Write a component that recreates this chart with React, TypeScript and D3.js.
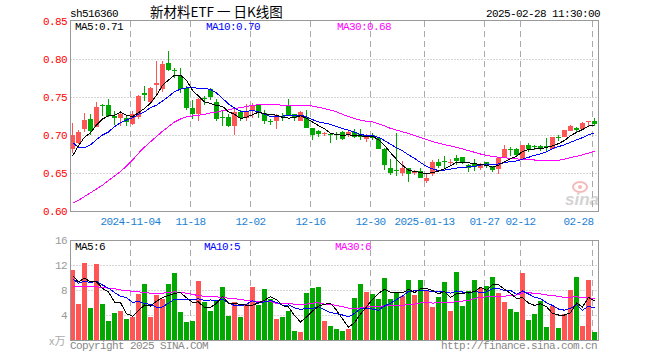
import React from 'react';
import * as d3 from 'd3';

const dates = [
  '2024-10-21','2024-10-22','2024-10-23','2024-10-24','2024-10-25','2024-10-28','2024-10-29','2024-10-30','2024-10-31',
  '2024-11-01','2024-11-04','2024-11-05','2024-11-06','2024-11-07','2024-11-08','2024-11-11','2024-11-12','2024-11-13','2024-11-14','2024-11-15',
  '2024-11-18','2024-11-19','2024-11-20','2024-11-21','2024-11-22','2024-11-25','2024-11-26','2024-11-27','2024-11-28','2024-11-29',
  '2024-12-02','2024-12-03','2024-12-04','2024-12-05','2024-12-06','2024-12-09','2024-12-10','2024-12-11','2024-12-12','2024-12-13',
  '2024-12-16','2024-12-17','2024-12-18','2024-12-19','2024-12-20','2024-12-23','2024-12-24','2024-12-25','2024-12-26','2024-12-27',
  '2024-12-30','2024-12-31','2025-01-02','2025-01-03','2025-01-06','2025-01-07','2025-01-08','2025-01-09','2025-01-10',
  '2025-01-13','2025-01-14','2025-01-15','2025-01-16','2025-01-17','2025-01-20','2025-01-21','2025-01-22','2025-01-23','2025-01-24',
  '2025-01-27','2025-02-05','2025-02-06','2025-02-07','2025-02-10','2025-02-11',
  '2025-02-12','2025-02-13','2025-02-14','2025-02-17','2025-02-18','2025-02-19','2025-02-20','2025-02-21','2025-02-24','2025-02-25',
  '2025-02-26','2025-02-27','2025-02-28'
];

const open = [
  0.682,0.690,0.708,0.721,0.711,0.740,0.739,0.725,0.723,0.722,
  0.714,0.724,0.755,0.744,0.766,0.760,0.795,0.786,0.778,0.762,
  0.735,0.727,0.749,0.760,0.743,0.724,0.724,0.712,0.730,0.722,
  0.732,0.739,0.729,0.719,0.719,0.725,0.738,0.727,0.719,0.722,
  0.709,0.705,0.701,0.701,0.701,0.704,0.6995,0.704,0.701,0.695,
  0.700,0.696,0.682,0.657,0.654,0.650,0.657,0.650,0.653,0.640,
  0.649,0.665,0.666,0.664,0.670,0.671,0.661,0.662,0.6565,0.664,
  0.659,0.655,0.670,0.681,0.682,0.669,0.687,0.686,0.686,0.685,
  0.681,0.697,0.697,0.705,0.709,0.708,0.717,0.718
];
const high = [
  0.716,0.707,0.729,0.727,0.744,0.741,0.748,0.731,0.731,0.726,
  0.731,0.753,0.764,0.763,0.797,0.797,0.811,0.788,0.788,0.764,
  0.746,0.749,0.751,0.762,0.747,0.731,0.727,0.736,0.733,0.741,
  0.742,0.741,0.733,0.721,0.727,0.729,0.747,0.728,0.731,0.733,
  0.709,0.707,0.704,0.701,0.704,0.705,0.706,0.708,0.708,0.701,
  0.703,0.698,0.683,0.669,0.703,0.666,0.657,0.654,0.656,0.650,
  0.667,0.668,0.673,0.669,0.674,0.671,0.662,0.668,0.663,0.665,
  0.659,0.670,0.687,0.684,0.683,0.687,0.690,0.687,0.687,0.696,
  0.698,0.700,0.707,0.713,0.710,0.717,0.719,0.722
];
const low = [
  0.676,0.688,0.704,0.700,0.710,0.725,0.724,0.713,0.712,0.712,
  0.713,0.721,0.745,0.741,0.751,0.757,0.784,0.775,0.755,0.733,
  0.721,0.719,0.740,0.746,0.719,0.712,0.710,0.700,0.719,0.719,
  0.723,0.722,0.714,0.713,0.708,0.719,0.725,0.718,0.718,0.709,
  0.694,0.698,0.699,0.689,0.694,0.693,0.697,0.696,0.694,0.691,
  0.694,0.681,0.654,0.648,0.646,0.646,0.638,0.648,0.644,0.637,
  0.646,0.657,0.657,0.659,0.661,0.662,0.651,0.653,0.654,0.657,
  0.651,0.649,0.670,0.673,0.672,0.669,0.678,0.680,0.679,0.677,
  0.681,0.692,0.697,0.705,0.702,0.707,0.710,0.712
];
const close = [
  0.700,0.704,0.720,0.705,0.737,0.739,0.725,0.723,0.727,0.717,
  0.728,0.751,0.752,0.762,0.768,0.794,0.785,0.785,0.761,0.735,
  0.727,0.748,0.747,0.750,0.721,0.723,0.712,0.730,0.722,0.731,
  0.738,0.730,0.718,0.718,0.726,0.724,0.725,0.722,0.730,0.709,
  0.700,0.701,0.702,0.700,0.700,0.695,0.704,0.697,0.698,0.697,
  0.696,0.681,0.660,0.650,0.653,0.657,0.649,0.651,0.644,0.644,
  0.665,0.659,0.665,0.665,0.666,0.665,0.657,0.658,0.661,0.659,
  0.654,0.670,0.681,0.680,0.674,0.687,0.682,0.685,0.681,0.684,
  0.697,0.696,0.706,0.712,0.706,0.716,0.718,0.714
];
const volume = [
  11.2,5.8,12.3,5.1,12.2,5.8,3.0,4.3,4.6,3.4,
  3.7,7.4,9.0,3.7,7.2,6.6,9.0,10.7,4.5,2.9,
  3.0,9.4,6.1,4.6,6.3,8.5,3.8,6.1,3.7,5.8,
  8.5,5.6,8.2,6.5,3.4,3.7,4.6,1.4,1.3,7.5,
  8.3,8.5,3.0,2.2,1.8,1.4,1.8,6.7,9.0,7.7,
  7.4,6.6,9.9,6.6,7.5,7.0,9.6,7.2,9.6,7.9,
  5.3,6.9,9.3,4.7,10.9,5.4,7.9,9.6,8.3,8.6,
  10.1,7.5,6.1,5.0,4.5,10.8,3.2,4.2,6.3,2.1,
  5.5,1.9,4.2,8.0,10.1,2.2,9.6,1.3
];

// moving-average values before enough history exists in the window
const ma5Head = [0.672, 0.686, 0.697, 0.703];
const ma10Head = [0.690, 0.684, 0.683, 0.687, 0.694, 0.700, 0.704, 0.711, 0.716];
const ma30Head = [
  0.610,0.614,0.619,0.624,0.629,0.634,0.640,0.646,0.652,0.659,
  0.667,0.676,0.684,0.691,0.698,0.705,0.711,0.717,0.721,0.724,
  0.725,0.726,0.727,0.729,0.730,0.732,0.733,0.735,0.736
];
const volMa5Head = [10.3, 9.3, 9.9, 9.3];
const volMa10Head = [9.8, 9.1, 9.4, 9.2, 9.4, 8.8, 8.3, 7.6, 7.0];
const volMa30Head = [
  8.5,8.5,8.6,8.5,8.5,8.4,8.3,8.2,8.0,7.9,
  7.8,7.7,7.6,7.5,7.5,7.5,7.6,7.7,7.6,7.5,
  7.3,7.1,7.0,6.9,6.9,6.8,6.7,6.6,6.5
];

const tickDates = ['2024-11-04','2024-11-18','2024-12-02','2024-12-16','2024-12-30','2025-01-13','2025-01-27','2025-02-12','2025-02-28'];
const tickLabels = ['2024-11-04','11-18','12-02','12-16','12-30','2025-01-13','01-27','02-12','02-28'];
const priceTicks = [0.60, 0.65, 0.70, 0.75, 0.80, 0.85];
const volTicks = [4, 8, 12, 16];

const RED = '#ff5555';
const GREEN = '#00a800';
const GRID = '#aaaaaa';
const BORDER = '#999999';
const MONO = '"Liberation Mono", "DejaVu Sans Mono", monospace';

function movingAvg(vals: number[], n: number, head: number[]): number[] {
  return vals.map((_, i) => (i < n - 1 ? head[i] : (d3.mean(vals.slice(i - n + 1, i + 1)) as number)));
}

export default function App() {
  const left = 70.5, right = 598.5;
  const pTop = 21, pBot = 211;
  const vTop = 240, vBot = 340;

  const xb = d3.scaleBand<string>().domain(dates).range([69.5, 597.5]);
  const cx = (d: string) => (xb(d) as number) + 3;
  const yP = d3.scaleLinear().domain([0.6, 0.85]).range([pBot, pTop]);
  const yV = d3.scaleLinear().domain([0, 16]).range([vBot, vTop]);

  const ma5 = movingAvg(close, 5, ma5Head);
  const ma10 = movingAvg(close, 10, ma10Head);
  const ma30 = movingAvg(close, 30, ma30Head);
  const vma5 = movingAvg(volume, 5, volMa5Head);
  const vma10 = movingAvg(volume, 10, volMa10Head);
  const vma30 = movingAvg(volume, 30, volMa30Head);

  const lineP = d3.line<number>().x((_, i) => cx(dates[i])).y((v) => yP(v));
  const lineV = d3.line<number>().x((_, i) => cx(dates[i])).y((v) => yV(v));

  const last = dates.length - 1;
  const txt = { fontFamily: MONO, fontSize: 11, letterSpacing: -0.6 } as React.CSSProperties;

  return (
    <svg width={660} height={360} style={{ position: 'absolute', left: 0, top: 0, background: '#fff' }}>
      <rect x={0} y={0} width={660} height={360} fill="#fff" />
      {/* header */}
      <text x={70} y={16.5} style={txt} fill="#000">sh516360</text>
      <text x={150} y={17} fontFamily='"Noto Sans CJK SC", sans-serif' fontSize={13.5} fill="#000">新材料ETF 一 日K线图</text>
      <text x={600} y={16.5} style={txt} fill="#000" textAnchor="end">2025-02-28 11:30:00</text>

      {/* price grid */}
      {priceTicks.slice(1, -1).map((t) => (
        <line key={'pg' + t} x1={left} x2={right} y1={Math.round(yP(t)) + 0.5} y2={Math.round(yP(t)) + 0.5}
          stroke={GRID} strokeDasharray="1,2" />
      ))}
      {priceTicks.map((t) => (
        <text key={'pl' + t} x={67} y={yP(t) + 4} style={txt} fill="#ff0000" textAnchor="end">{t.toFixed(2)}</text>
      ))}
      {tickDates.map((d) => (
        <g key={'vd' + d}>
          <line x1={cx(d) - 2} x2={cx(d) - 2} y1={pTop} y2={pBot} stroke={GRID} strokeDasharray="6,4" shapeRendering="crispEdges" />
          <line x1={cx(d) - 2} x2={cx(d) - 2} y1={vTop} y2={vBot} stroke={GRID} strokeDasharray="6,4" shapeRendering="crispEdges" />
        </g>
      ))}
      {tickDates.map((d, i) => {
        const isLast = i === tickDates.length - 1;
        return (
          <text key={'tl' + d} x={isLast ? cx(d) - 1 : cx(d) - 2} y={225} style={txt} fill="#1a7fd4"
            textAnchor={isLast ? 'end' : 'middle'}>{tickLabels[i]}</text>
        );
      })}

      {/* sina watermark */}
      <g opacity={0.55}>
        <ellipse cx={580} cy={187} rx={7} ry={5} fill="none" stroke="#f08080" strokeWidth={2} />
        <circle cx={580} cy={187} r={2} fill="#f08080" />
        <text x={565} y={205} fontFamily="Liberation Sans, sans-serif" fontStyle="italic" fontWeight="bold" fontSize={17} fill="#b0b0b0">sina</text>
      </g>

      {/* candles */}
      <g shapeRendering="crispEdges">
        {dates.map((d, i) => {
          const up = close[i] >= open[i];
          const col = up ? RED : GREEN;
          const x = cx(d);
          const top = yP(Math.max(open[i], close[i]));
          const bot = yP(Math.min(open[i], close[i]));
          return (
            <g key={'c' + d}>
              <line x1={x} x2={x} y1={yP(high[i])} y2={yP(low[i])} stroke={col} strokeWidth={1} />
              <rect x={x - 2.5} y={top} width={5} height={Math.max(1, bot - top)} fill={col} />
            </g>
          );
        })}
      </g>
      <g fill="none" strokeWidth={1} shapeRendering="crispEdges">
        <path d={lineP(ma30) || ''} stroke="#ff00ff" />
        <path d={lineP(ma10) || ''} stroke="#0000ff" />
        <path d={lineP(ma5) || ''} stroke="#000000" />
      </g>
      <text x={75} y={30} style={txt} fill="#000">{'MA5:' + ma5[last].toFixed(2)}</text>
      <text x={206} y={30} style={txt} fill="#0000ff">{'MA10:' + ma10[last].toFixed(2)}</text>
      <text x={337} y={30} style={txt} fill="#ff00ff">{'MA30:' + ma30[last].toFixed(2)}</text>
      <rect x={left} y={pTop - 0.5} width={right - left} height={pBot - pTop + 1} fill="none" stroke={BORDER} shapeRendering="crispEdges" />

      {/* volume */}
      {volTicks.slice(0, -1).map((t) => (
        <line key={'vg' + t} x1={left} x2={right} y1={yV(t) + 0.5} y2={yV(t) + 0.5} stroke={GRID} strokeDasharray="1,2" />
      ))}
      {volTicks.map((t) => (
        <text key={'vl' + t} x={67} y={yV(t) + 4} style={txt} fill="#999" textAnchor="end">{t}</text>
      ))}
      <text x={49} y={345} fontFamily='"Noto Sans CJK SC", sans-serif' fontSize={11} fill="#aaa">x万</text>
      <g shapeRendering="crispEdges">
        {dates.map((d, i) => (
          <rect key={'v' + d} x={cx(d) - 2.5} y={yV(volume[i])} width={5} height={vBot - yV(volume[i])}
            fill={close[i] >= open[i] ? RED : GREEN} />
        ))}
      </g>
      <g fill="none" strokeWidth={1} shapeRendering="crispEdges">
        <path d={lineV(vma30) || ''} stroke="#ff00ff" />
        <path d={lineV(vma10) || ''} stroke="#0000ff" />
        <path d={lineV(vma5) || ''} stroke="#000000" />
      </g>
      <text x={75} y={250} style={txt} fill="#000">{'MA5:' + Math.floor(vma5[last])}</text>
      <text x={204} y={250} style={txt} fill="#0000ff">{'MA10:' + Math.floor(vma10[last])}</text>
      <text x={335} y={250} style={txt} fill="#ff00ff">{'MA30:' + Math.floor(vma30[last])}</text>
      <rect x={left} y={vTop + 0.5} width={right - left} height={vBot - vTop} fill="none" stroke={BORDER} shapeRendering="crispEdges" />

      {/* footer */}
      <text x={70} y={349} style={txt} fill="#888">Copyright 2025 SINA.COM</text>
      <text x={597} y={349} style={txt} fill="#888" textAnchor="end">http://finance.sina.com.cn</text>
    </svg>
  );
}
